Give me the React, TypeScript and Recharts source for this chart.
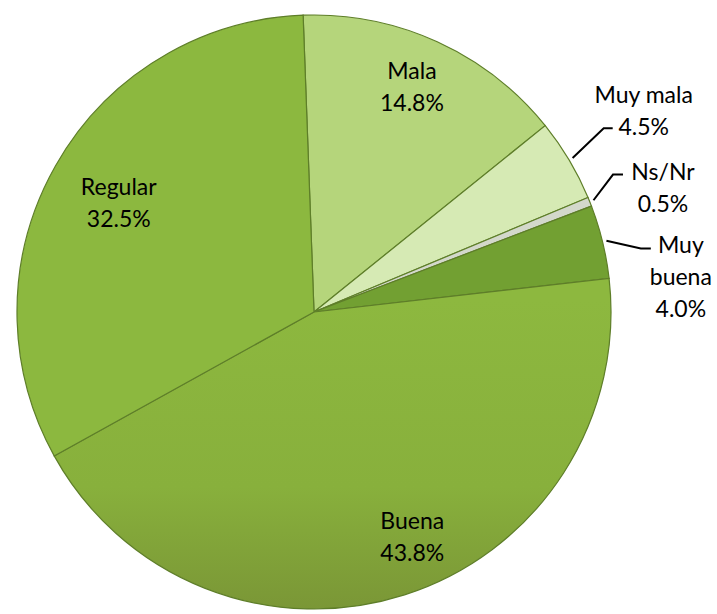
import React from "react";
import { PieChart, Pie, Cell } from "recharts";

const categories = ["Mala", "Muy mala", "Ns/Nr", "Muy buena", "Buena", "Regular"];
const values = [14.8, 4.5, 0.5, 4.0, 43.8, 32.5];
const colors = ["#b5d57b", "#d6eab4", "#d3d8cb", "#72a032", "url(#buenaGrad)", "#8cb83f"];

const data = categories.map((name, i) => ({ name, value: values[i] }));

// label layout (radius as fraction of outer radius, angle offsets in degrees clockwise)
const insideLayout: Record<string, { rf: number; da: number }> = {
  Mala: { rf: 0.83, da: -1.1 },
  Buena: { rf: 0.825, da: -5.9 },
  Regular: { rf: 0.755, da: 0 },
};
const outsideLayout: Record<
  string,
  { lines: string[]; ef: number; da: number; len: number; tdx: number; anchor: number; tdy: number }
> = {
  "Muy mala": { lines: ["Muy mala"], ef: 1.155, da: -1.6, len: 9, tdx: 31, anchor: 1, tdy: -2 },
  "Ns/Nr": { lines: ["Ns/Nr"], ef: 1.108, da: -2.9, len: 10, tdx: 40, anchor: 0, tdy: -4 },
  "Muy buena": { lines: ["Muy", "buena"], ef: 1.121, da: 2.7, len: 10, tdx: 30, anchor: 0, tdy: -4 },
};

const LINE_H = 32;
const FONT = "Lato, 'Open Sans', sans-serif";

function polar(cx: number, cy: number, r: number, cwDeg: number) {
  const a = (cwDeg * Math.PI) / 180;
  return { x: cx + r * Math.sin(a), y: cy - r * Math.cos(a) };
}

const renderLabel = (props: any) => {
  const { cx, cy, midAngle, outerRadius, name, value } = props;
  const cw = 90 - midAngle;
  const pct = `${Number(value).toFixed(1)}%`;
  if (insideLayout[name]) {
    const L = insideLayout[name];
    const p = polar(cx, cy, outerRadius * L.rf, cw + L.da);
    return (
      <g>
        <text x={p.x} y={p.y - LINE_H / 2} textAnchor="middle" dominantBaseline="central" fontFamily={FONT} fontSize={23} fill="#000">
          {name}
        </text>
        <text x={p.x} y={p.y + LINE_H / 2} textAnchor="middle" dominantBaseline="central" fontFamily={FONT} fontSize={23} fill="#000">
          {pct}
        </text>
      </g>
    );
  }
  const O = outsideLayout[name];
  if (!O) return null;
  const p0 = polar(cx, cy, outerRadius + 4, cw);
  const p1 = polar(cx, cy, outerRadius * O.ef, cw + O.da);
  const p2 = { x: p1.x + O.len, y: p1.y };
  const lines = [...O.lines, pct];
  const tx = p2.x + O.tdx;
  const y0 = p2.y + O.tdy - O.anchor * LINE_H;
  return (
    <g>
      <polyline points={`${p0.x},${p0.y} ${p1.x},${p1.y} ${p2.x},${p2.y}`} fill="none" stroke="#000" strokeWidth={2} />
      {lines.map((t, i) => (
        <text key={i} x={tx} y={y0 + i * LINE_H} textAnchor="middle" dominantBaseline="central" fontFamily={FONT} fontSize={23} fill="#000">
          {t}
        </text>
      ))}
    </g>
  );
};

export default function App() {
  return (
    <div style={{ position: "absolute", left: 0, top: 0, width: 717, height: 614, background: "#fff" }}>
      <PieChart width={717} height={614} margin={{ top: 0, right: 0, bottom: 0, left: 0 }}>
        <defs>
          <linearGradient id="buenaGrad" gradientUnits="userSpaceOnUse" x1="0" y1="300" x2="0" y2="612">
            <stop offset="0" stopColor="#8db83f" />
            <stop offset="0.6" stopColor="#88b03c" />
            <stop offset="1" stopColor="#7a9636" />
          </linearGradient>
        </defs>
        <Pie
          data={data}
          dataKey="value"
          nameKey="name"
          cx={314}
          cy={312}
          outerRadius={297}
          innerRadius={0}
          startAngle={92.1}
          endAngle={-267.9}
          stroke="#5e7e29"
          strokeWidth={1.2}
          label={renderLabel}
          labelLine={false}
          isAnimationActive={false}
        >
          {data.map((d, i) => (
            <Cell key={d.name} fill={colors[i]} />
          ))}
        </Pie>
      </PieChart>
    </div>
  );
}
